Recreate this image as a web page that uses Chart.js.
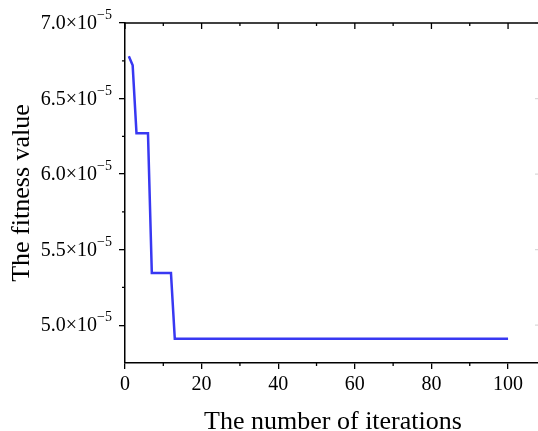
<!DOCTYPE html>
<html>
<head>
<meta charset="utf-8">
<script src="https://cdn.jsdelivr.net/npm/chart.js@4"></script>
<style>
  html, body { margin: 0; padding: 0; background: #fff; overflow: hidden; }
  #wrap { width: 538px; height: 431px; overflow: hidden; position: relative; }
  #box { position: absolute; left: 0; top: 0; width: 600px; height: 431px; }
</style>
</head>
<body>
<div id="wrap"><div id="box"><canvas id="fitness"></canvas></div></div>
<script>
// iterations where the curve changes, and the fitness read at each
const iterations = [1, 2, 3, 6, 7, 12, 13, 100];
const fitness = [6.78e-5, 6.72e-5, 6.27e-5, 6.27e-5, 5.345e-5, 5.345e-5, 4.91e-5, 4.91e-5];

const xTicks = [0, 20, 40, 60, 80, 100];
const xMinor = [10, 30, 50, 70, 90];
const yTicks = [5.0e-5, 5.5e-5, 6.0e-5, 6.5e-5, 7.0e-5];
const yMinor = [5.25e-5, 5.75e-5, 6.25e-5, 6.75e-5];

const serif = "'Liberation Serif', 'Times New Roman', serif";

// y labels as mantissa ×10 with a real superscript exponent
const yLabels = {
    id: 'yLabels',
    afterDraw(chart) {
        const ctx = chart.ctx;
        const a = chart.chartArea;
        const y = chart.scales.y;
        ctx.save();
        ctx.fillStyle = '#000';
        ctx.textBaseline = 'middle';
        ctx.font = '14px ' + serif;
        const sup = '\u22125';
        const supW = ctx.measureText(sup).width;
        const xr = a.left - 13 - supW;
        yTicks.forEach(v => {
            const py = y.getPixelForValue(v);
            ctx.font = '20px ' + serif;
            ctx.textAlign = 'right';
            ctx.fillText((v * 1e5).toFixed(1) + '×10', xr, py + 1);
            ctx.font = '14px ' + serif;
            ctx.textAlign = 'left';
            ctx.fillText(sup, xr, py - 7.5);
        });
        ctx.restore();
    }
};

// minor ticks, top frame line, inward ticks on top and right
const frame = {
    id: 'frame',
    afterDraw(chart) {
        const ctx = chart.ctx;
        const a = chart.chartArea;
        const x = chart.scales.x, y = chart.scales.y;
        ctx.save();
        ctx.strokeStyle = '#000';
        ctx.lineWidth = 1.5;
        ctx.beginPath();
        ctx.moveTo(a.left, a.top); ctx.lineTo(a.right, a.top);
        ctx.stroke();
        ctx.lineWidth = 1.3;
        ctx.beginPath();
        xTicks.forEach(v => {
            const px = x.getPixelForValue(v);
            ctx.moveTo(px, a.top); ctx.lineTo(px, a.top + 6);
        });
        xMinor.forEach(v => {
            const px = x.getPixelForValue(v);
            ctx.moveTo(px, a.bottom); ctx.lineTo(px, a.bottom + 3);
            ctx.moveTo(px, a.top); ctx.lineTo(px, a.top + 3);
        });
        yMinor.forEach(v => {
            const py = y.getPixelForValue(v);
            ctx.moveTo(a.left, py); ctx.lineTo(a.left - 3, py);
        });
        ctx.stroke();
        // faint right-axis ticks at the clipped edge
        ctx.strokeStyle = 'rgba(0,0,0,0.15)';
        ctx.beginPath();
        yTicks.forEach(v => {
            const py = y.getPixelForValue(v);
            ctx.moveTo(a.right, py); ctx.lineTo(a.right - 6, py);
        });
        ctx.stroke();
        ctx.restore();
    }
};

new Chart(document.getElementById("fitness"), {
    type: 'line',
    data: {
        datasets: [{
            data: iterations.map((it, i) => ({ x: it, y: fitness[i] })),
            borderColor: '#3838f2',
            borderWidth: 2.5,
            pointRadius: 0,
            tension: 0,
            fill: false
        }]
    },
    options: {
        responsive: true,
        maintainAspectRatio: false,
        animation: false,
        layout: { padding: { top: 23, right: 59, left: 0, bottom: 0 } },
        plugins: { legend: { display: false }, tooltip: { enabled: false } },
        scales: {
            x: {
                type: 'linear',
                min: 0,
                max: 108.6,
                afterBuildTicks: s => { s.ticks = xTicks.map(v => ({ value: v })); },
                afterFit: s => { s.height = 68; },
                grid: { drawOnChartArea: false, drawTicks: true, tickLength: 6, color: '#000', lineWidth: 1.3 },
                border: { color: '#000', width: 1.5 },
                ticks: { color: '#000', padding: 4, maxRotation: 0, font: { family: serif, size: 20 } },
                title: {
                    display: true,
                    text: 'The number of iterations',
                    color: '#000',
                    padding: { top: 0, bottom: -7 },
                    font: { family: serif, size: 26 }
                }
            },
            y: {
                type: 'linear',
                min: 4.75e-5,
                max: 7.0e-5,
                afterBuildTicks: s => { s.ticks = yTicks.map(v => ({ value: v })); },
                afterFit: s => { s.width = 125; },
                grid: { drawOnChartArea: false, drawTicks: true, tickLength: 6, color: '#000', lineWidth: 1.3 },
                border: { color: '#000', width: 1.5 },
                ticks: { display: false },
                title: {
                    display: true,
                    text: 'The fitness value',
                    color: '#000',
                    padding: { top: 7, bottom: 0 },
                    font: { family: serif, size: 26 }
                }
            }
        }
    },
    plugins: [frame, yLabels]
});
</script>
</body>
</html>
